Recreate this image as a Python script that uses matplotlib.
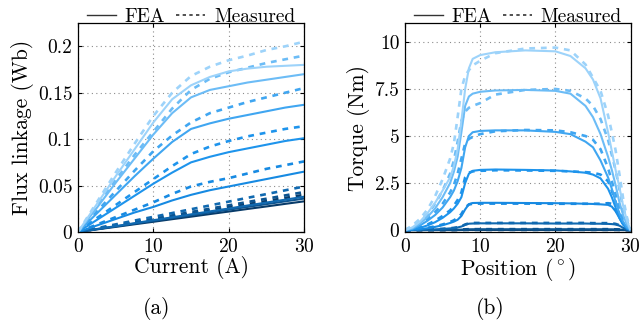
import matplotlib
matplotlib.use("Agg")
import matplotlib.pyplot as plt
from matplotlib.ticker import FormatStrFormatter
from matplotlib.lines import Line2D

plt.rcParams["font.family"] = "serif"
plt.rcParams["font.serif"] = ["cmr10", "DejaVu Serif"]
plt.rcParams["mathtext.fontset"] = "cm"
plt.rcParams["axes.unicode_minus"] = False
plt.rcParams["axes.formatter.use_mathtext"] = True

# colours, highest current (lightest) first
colors = ["#9dd3fa", "#6cbcf6", "#40a6f1", "#1e94ec", "#178ae2", "#1069b0", "#0c5490", "#083b69"]

# (a) flux linkage vs current
current = [0, 2.5, 5, 7.5, 10, 12.5, 15, 17.5, 20, 22.5, 25, 27.5, 30]
flux_fea = [
    [0, 0.030, 0.060, 0.089, 0.118, 0.143, 0.158, 0.167, 0.173, 0.176, 0.178, 0.179, 0.180],
    [0, 0.026, 0.053, 0.079, 0.105, 0.128, 0.145, 0.153, 0.157, 0.161, 0.164, 0.167, 0.170],
    [0, 0.020, 0.040, 0.060, 0.079, 0.097, 0.111, 0.117, 0.122, 0.126, 0.130, 0.134, 0.137],
    [0, 0.013, 0.026, 0.039, 0.052, 0.064, 0.075, 0.081, 0.086, 0.090, 0.094, 0.098, 0.101],
    [0, 0.007, 0.014, 0.021, 0.027, 0.034, 0.040, 0.045, 0.049, 0.053, 0.057, 0.061, 0.065],
    [0, 0.0032, 0.0063, 0.0095, 0.0127, 0.0158, 0.019, 0.0222, 0.0253, 0.0285, 0.0317, 0.0348, 0.038],
    [0, 0.003, 0.006, 0.009, 0.012, 0.015, 0.018, 0.021, 0.024, 0.027, 0.030, 0.033, 0.036],
    [0, 0.0028, 0.0055, 0.0083, 0.011, 0.0138, 0.0165, 0.0193, 0.022, 0.0248, 0.0275, 0.0303, 0.033],
]
flux_meas = [
    [0, 0.032, 0.064, 0.095, 0.125, 0.150, 0.168, 0.178, 0.185, 0.190, 0.196, 0.200, 0.205],
    [0, 0.028, 0.056, 0.083, 0.108, 0.133, 0.153, 0.165, 0.172, 0.177, 0.182, 0.186, 0.190],
    [0, 0.022, 0.044, 0.066, 0.087, 0.104, 0.118, 0.128, 0.134, 0.140, 0.145, 0.150, 0.155],
    [0, 0.015, 0.029, 0.043, 0.057, 0.071, 0.084, 0.092, 0.098, 0.103, 0.107, 0.111, 0.114],
    [0, 0.008, 0.016, 0.024, 0.032, 0.041, 0.049, 0.054, 0.058, 0.063, 0.068, 0.072, 0.076],
    [0, 0.0041, 0.0082, 0.0123, 0.0163, 0.0204, 0.0245, 0.0286, 0.0327, 0.0368, 0.0408, 0.0449, 0.049],
    [0, 0.0036, 0.0072, 0.0108, 0.0143, 0.0179, 0.0215, 0.0251, 0.0287, 0.0323, 0.0358, 0.0394, 0.043],
    [0, 0.0033, 0.0067, 0.010, 0.0133, 0.0167, 0.020, 0.0233, 0.0267, 0.030, 0.0333, 0.0367, 0.040],
]

# (b) torque vs rotor position
position = [0, 1, 2, 3, 4, 5, 6, 6.5, 7, 7.5, 8, 8.5, 9, 10, 12, 16, 20, 22, 24, 25, 26, 27, 27.5, 28, 28.5, 29, 29.5, 30]
torque_fea = [
    [0, 0.15, 0.45, 0.9, 1.45, 2.1, 2.8, 3.4, 4.3, 5.8, 7.5, 8.6, 9.1, 9.3, 9.45, 9.55, 9.5, 9.25, 8.6, 8.0, 7.0, 5.2, 4.2, 3.2, 2.3, 1.3, 0.5, 0],
    [0, 0.1, 0.35, 0.7, 1.15, 1.75, 2.5, 3.1, 3.9, 5.2, 6.6, 7.1, 7.25, 7.35, 7.42, 7.45, 7.4, 7.25, 6.6, 6.0, 5.1, 3.9, 3.2, 2.4, 1.5, 0.8, 0.3, 0],
    [0, 0.07, 0.25, 0.5, 0.8, 1.2, 1.75, 2.1, 2.6, 3.3, 4.4, 5.0, 5.2, 5.27, 5.3, 5.3, 5.22, 5.1, 4.7, 4.4, 3.7, 2.8, 2.2, 1.5, 0.9, 0.45, 0.15, 0],
    [0, 0.04, 0.12, 0.25, 0.42, 0.65, 0.95, 1.15, 1.4, 1.75, 2.5, 3.0, 3.15, 3.2, 3.22, 3.2, 3.17, 3.12, 3.05, 2.95, 2.75, 2.2, 1.75, 1.2, 0.65, 0.3, 0.1, 0],
    [0, 0.02, 0.05, 0.1, 0.17, 0.26, 0.38, 0.45, 0.55, 0.75, 1.1, 1.38, 1.44, 1.45, 1.45, 1.44, 1.43, 1.42, 1.4, 1.39, 1.37, 1.34, 1.25, 1.0, 0.65, 0.3, 0.1, 0],
    [0, 0.005, 0.01, 0.02, 0.04, 0.06, 0.09, 0.11, 0.14, 0.19, 0.28, 0.34, 0.35, 0.36, 0.36, 0.36, 0.35, 0.35, 0.35, 0.34, 0.34, 0.33, 0.32, 0.3, 0.24, 0.12, 0.04, 0],
    [0, 0, 0, 0.005, 0.005, 0.01, 0.01, 0.015, 0.02, 0.025, 0.035, 0.04, 0.045, 0.045, 0.045, 0.045, 0.045, 0.045, 0.045, 0.045, 0.045, 0.04, 0.04, 0.035, 0.03, 0.015, 0.005, 0],
    [0, 0, 0, 0, 0, 0, 0, 0, 0, 0.005, 0.005, 0.01, 0.01, 0.01, 0.01, 0.01, 0.01, 0.01, 0.01, 0.01, 0.01, 0.01, 0.01, 0.01, 0.005, 0, 0, 0],
]
torque_meas = [
    [0, 0.25, 0.6, 1.1, 1.8, 2.7, 3.8, 4.6, 6.0, 7.5, 8.2, 8.5, 8.75, 9.0, 9.4, 9.65, 9.7, 9.55, 8.8, 8.1, 7.4, 6.1, 5.2, 4.25, 3.0, 1.7, 0.7, 0],
    [0, 0.18, 0.45, 0.85, 1.4, 2.1, 3.0, 3.7, 4.7, 5.8, 6.3, 6.5, 6.6, 6.75, 7.2, 7.45, 7.5, 7.4, 7.0, 6.6, 5.9, 4.8, 4.0, 3.2, 2.2, 1.2, 0.5, 0],
    [0, 0.1, 0.3, 0.6, 0.95, 1.4, 2.0, 2.4, 3.0, 3.8, 4.6, 4.85, 4.95, 5.1, 5.25, 5.32, 5.3, 5.2, 5.0, 4.8, 4.3, 3.3, 2.6, 1.9, 1.2, 0.6, 0.2, 0],
    [0, 0.05, 0.15, 0.3, 0.5, 0.75, 1.05, 1.3, 1.6, 2.0, 2.8, 3.05, 3.12, 3.15, 3.18, 3.17, 3.15, 3.12, 3.08, 3.05, 2.95, 2.6, 2.1, 1.5, 0.8, 0.35, 0.1, 0],
    [0, 0.02, 0.06, 0.12, 0.2, 0.3, 0.43, 0.52, 0.65, 0.85, 1.2, 1.36, 1.4, 1.41, 1.41, 1.41, 1.4, 1.4, 1.4, 1.4, 1.4, 1.43, 1.4, 1.1, 0.7, 0.35, 0.1, 0],
    [0, 0.01, 0.02, 0.03, 0.05, 0.07, 0.1, 0.12, 0.15, 0.2, 0.3, 0.36, 0.38, 0.38, 0.38, 0.38, 0.38, 0.38, 0.38, 0.37, 0.37, 0.37, 0.36, 0.33, 0.26, 0.14, 0.05, 0],
    [0, 0, 0.005, 0.005, 0.01, 0.01, 0.015, 0.02, 0.02, 0.03, 0.04, 0.05, 0.05, 0.05, 0.05, 0.05, 0.05, 0.05, 0.05, 0.05, 0.05, 0.05, 0.045, 0.04, 0.03, 0.02, 0.005, 0],
    [0, 0, 0, 0, 0, 0, 0, 0, 0.005, 0.005, 0.01, 0.01, 0.01, 0.01, 0.01, 0.01, 0.01, 0.01, 0.01, 0.01, 0.01, 0.01, 0.01, 0.01, 0.005, 0, 0, 0],
]

FS_TICK = 14
FS_LABEL = 15.5
FS_LEG = 14
LW = 1.5
DASH = (0, (2.2, 2.2))

fig = plt.figure(figsize=(6.41, 3.30), dpi=100)
ax1 = fig.add_axes([0.1217, 0.297, 0.3526, 0.633])
ax2 = fig.add_axes([0.6318, 0.297, 0.352, 0.633])


def style(ax):
    ax.grid(True, color="#8c8c8c", linestyle=(0, (1, 3)), linewidth=0.8)
    ax.set_axisbelow(True)
    ax.tick_params(direction="in", length=3, width=0.8, labelsize=FS_TICK, top=True, right=True, pad=4)
    for s in ax.spines.values():
        s.set_linewidth(0.9)
    handles = [Line2D([], [], color="#333333", lw=1.0),
               Line2D([], [], color="#333333", lw=1.2, linestyle=(0, (2, 2)))]
    ax.legend(handles, ["FEA", "Measured"], loc="lower center", bbox_to_anchor=(0.5, 0.985),
              ncol=2, frameon=False, fontsize=FS_LEG, handlelength=1.5, handletextpad=0.45,
              columnspacing=0.55, borderaxespad=0, borderpad=0)


for i in range(len(colors) - 1, -1, -1):
    ax1.plot(current, flux_fea[i], color=colors[i], lw=LW, solid_capstyle="butt")
    ax1.plot(current, flux_meas[i], color=colors[i], lw=LW + 0.4, linestyle=DASH)
ax1.set_xlim(0, 30)
ax1.set_ylim(0, 0.225)
ax1.set_xticks([0, 10, 20, 30])
ax1.set_yticks([0, 0.05, 0.1, 0.15, 0.2])
ax1.yaxis.set_major_formatter(FormatStrFormatter("%g"))
ax1.set_xlabel("Current (A)", fontsize=FS_LABEL, labelpad=0)
ax1.set_ylabel("Flux linkage (Wb)", fontsize=FS_LABEL, labelpad=3)
style(ax1)

for i in range(len(colors) - 1, -1, -1):
    ax2.plot(position, torque_fea[i], color=colors[i], lw=LW, solid_capstyle="butt")
    ax2.plot(position, torque_meas[i], color=colors[i], lw=LW + 0.4, linestyle=DASH)
ax2.set_xlim(0, 30)
ax2.set_ylim(-0.1, 11)
ax2.set_xticks([0, 10, 20, 30])
ax2.set_yticks([0, 2.5, 5, 7.5, 10])
ax2.yaxis.set_major_formatter(FormatStrFormatter("%g"))
ax2.set_xlabel(r"Position ($^\circ$)", fontsize=FS_LABEL, labelpad=0)
ax2.set_ylabel("Torque (Nm)", fontsize=FS_LABEL, labelpad=3)
style(ax2)

fig.text(157 / 641, 1 - 309 / 330, "(a)", fontsize=FS_LABEL, ha="center", va="center")
fig.text(490 / 641, 1 - 309 / 330, "(b)", fontsize=FS_LABEL, ha="center", va="center")

fig.savefig("out.png", dpi=100)
